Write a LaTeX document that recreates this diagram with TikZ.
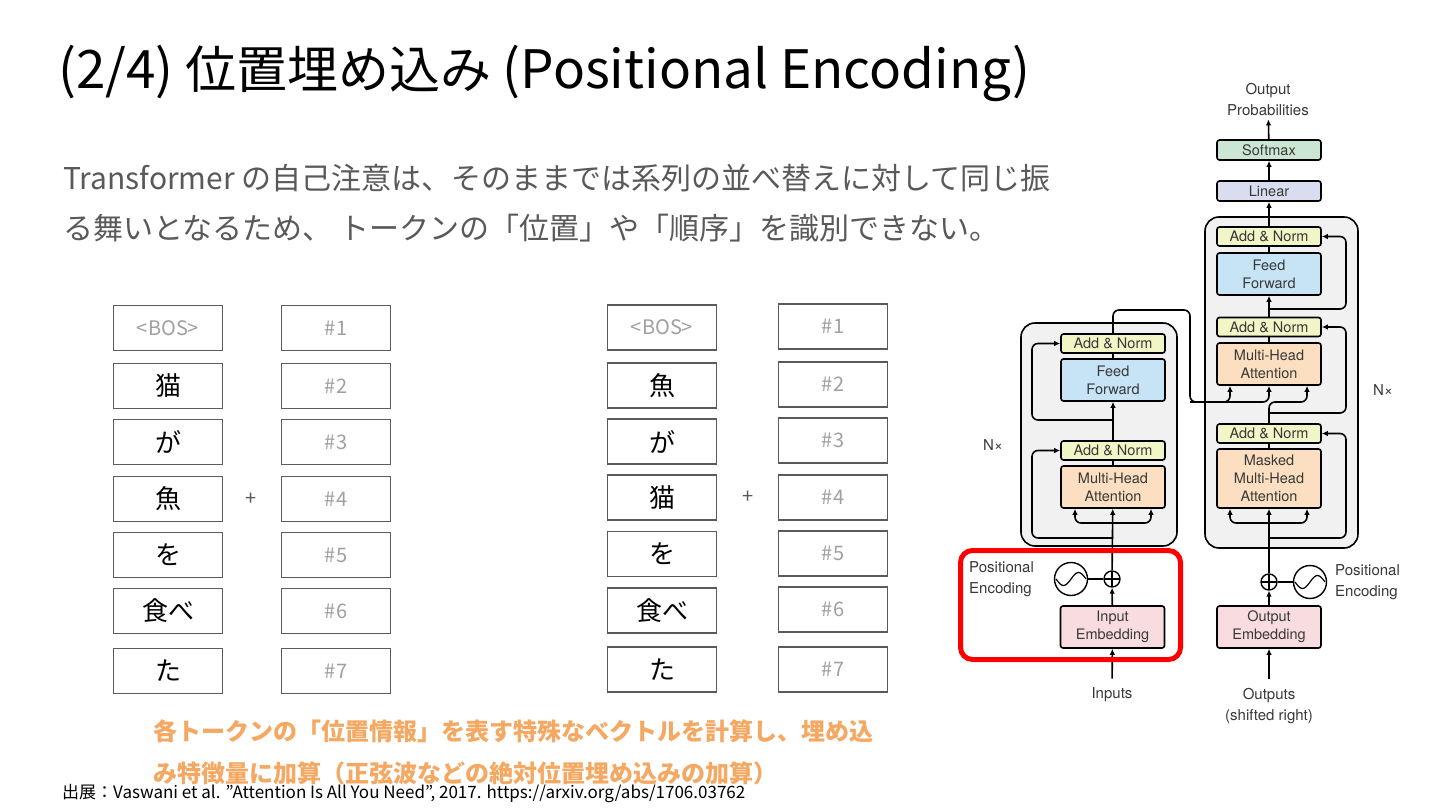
\documentclass[tikz,border=0pt]{standalone}
\usepackage{fontspec}
\setmainfont{Noto Sans CJK JP}
\newfontfamily\figfont{TeX Gyre Heros}
\usetikzlibrary{positioning, arrows.meta, calc}
\definecolor{textgray}{HTML}{595959}
\definecolor{idgray}{HTML}{A0A0A0}
\definecolor{boxgray}{HTML}{5A5A5A}
\definecolor{notegold}{HTML}{F5A862}
\definecolor{normyellow}{HTML}{F2F5C6}
\definecolor{ffblue}{HTML}{C6E4F5}
\definecolor{attnorange}{HTML}{FCDFC0}
\definecolor{embpink}{HTML}{F8DCE0}
\definecolor{softgreen}{HTML}{CBE7D3}
\definecolor{linlilac}{HTML}{DADCEF}
\definecolor{stackgray}{HTML}{F1F1F1}
\definecolor{figtext}{HTML}{383838}

\newcommand\titlelatin[1]{{\fontsize{53}{53}\selectfont #1}}

\tikzset{
  token/.style={draw=boxgray, line width=1.4pt, minimum width=109pt, minimum height=45pt,
                inner sep=0pt, font=\fontsize{26}{26}\selectfont},
  posid/.style={token, text=idgray, font=\fontsize{20}{20}\selectfont},
  layer/.style={draw=black, line width=1.6pt, rounded corners=2.5pt, minimum width=104pt,
                inner sep=0pt, align=center, text=figtext, font=\figfont\fontsize{14.5}{18}\selectfont},
  addnorm/.style={layer, fill=normyellow, minimum height=19pt},
  ffwd/.style={layer, fill=ffblue, minimum height=42pt},
  attn/.style={layer, fill=attnorange, minimum height=42pt},
  embed/.style={layer, fill=embpink, minimum height=42pt},
  stack/.style={draw=black, line width=1.6pt, rounded corners=14pt, fill=stackgray, inner sep=0pt},
  adder/.style={circle, draw, line width=1.4pt, fill=white, minimum size=16pt, inner sep=0pt,
                path picture={\draw[line width=1.2pt] (path picture bounding box.north) -- (path picture bounding box.south)
                  (path picture bounding box.west) -- (path picture bounding box.east);}},
  wave/.style={circle, draw, line width=1.4pt, minimum size=33pt, inner sep=0pt},
  figlabel/.style={inner sep=1pt, align=center, text=figtext, font=\figfont\fontsize{15}{21}\selectfont},
  flow/.style={line width=1.6pt, -{Latex[length=6pt,width=5.5pt]}},
  link/.style={line width=1.6pt},
}

\begin{document}
\begin{tikzpicture}[x=1pt, y=-1pt]
  \fill[white] (0,0) rectangle (1440,810);
  \useasboundingbox (0,0) rectangle (1440,810);

  % title and lead text
  \node[anchor=base west, inner sep=0pt, font=\fontsize{51}{51}\selectfont] (title) at (58,89)
    {\titlelatin{(2/4) }位置埋め込み \titlelatin{(Positional Encoding)}};
  \node[anchor=base west, inner sep=0pt, text=textgray, font=\fontsize{30}{30}\selectfont] (lead1) at (63,190)
    {Transformer の自己注意は、そのままでは系列の並べ替えに対して同じ振};
  \node[anchor=base west, inner sep=0pt, text=textgray, font=\fontsize{30}{30}\selectfont] (lead2) at (63,240)
    {る舞いとなるため、 トークンの「位置」や「順序」を識別できない。};

  % token tables
  \node[token, text=idgray, font=\fontsize{20}{20}\selectfont] (ltok1) at (168,328) {<BOS>};
  \node[token, text=idgray, font=\fontsize{20}{20}\selectfont] (rtok1) at (662,327.5) {<BOS>};
  \foreach \tok/\y [count=\i from 2] in {猫/386, が/442, 魚/499, を/555, 食べ/611, た/671}
    \node[token] (ltok\i) at (168,\y) {\tok};
  \foreach \tok/\y [count=\i from 2] in {魚/385.5, が/441.5, 猫/497.5, を/554, 食べ/610.5, た/669.5}
    \node[token] (rtok\i) at (662,\y) {\tok};
  \foreach \y [count=\i] in {328, 386, 442, 499, 555, 611, 671} {
    \node[posid] (lpos\i) at (336,\y) {\#\i};
    \node[posid] (rpos\i) at (833,\y-1.5) {\#\i};
  }
  \node[text=textgray, font=\fontsize{20}{20}\selectfont] (lplus) at (251,499) {+};
  \node[text=textgray, font=\fontsize{20}{20}\selectfont] (rplus) at (748,497) {+};

  % transformer: stacks
  \node[stack, minimum width=156pt, minimum height=223pt] (encstack) at (1099,434.5) {};
  \node[stack, minimum width=153pt, minimum height=331pt] (decstack) at (1281.5,382.5) {};

  % encoder side
  \node[embed] (inemb) at (1112.5,627) {Input\\Embedding};
  \node[attn] (encmha) at (1113,487) {Multi-Head\\Attention};
  \node[addnorm] (encan1) at (1113,450.5) {Add \& Norm};
  \node[ffwd] (encff) at (1113,380) {Feed\\Forward};
  \node[addnorm] (encan2) at (1113,343.5) {Add \& Norm};
  \node[adder] (encplus) at (1112,579) {};
  \node[wave] (encwave) at (1071,579) {};
  \node[figlabel] (inputs) at (1112,695) {Inputs};
  \node[figlabel, align=left, anchor=west] (encpe) at (968,579) {Positional\\Encoding};
  \node[figlabel] (encnx) at (993,445) {N×};

  % decoder side
  \node[embed, minimum width=104pt] (outemb) at (1269,627) {Output\\Embedding};
  \node[attn, minimum height=59pt] (decmha1) at (1269,478.5) {Masked\\Multi-Head\\Attention};
  \node[addnorm] (decan1) at (1269,433.5) {Add \& Norm};
  \node[attn] (decmha2) at (1269,364) {Multi-Head\\Attention};
  \node[addnorm] (decan2) at (1269,327) {Add \& Norm};
  \node[ffwd] (decff) at (1269,274) {Feed\\Forward};
  \node[addnorm] (decan3) at (1269,236.5) {Add \& Norm};
  \node[layer, fill=linlilac, minimum height=20pt] (linear) at (1269,191) {Linear};
  \node[layer, fill=softgreen, minimum height=20pt] (softmax) at (1269,150) {Softmax};
  \node[figlabel] (probs) at (1268,100) {Output\\Probabilities};
  \node[adder] (decplus) at (1269,582) {};
  \node[wave] (decwave) at (1310,582) {};
  \node[figlabel] (outputs) at (1269,706) {Outputs\\(shifted right)};
  \node[figlabel, align=left, anchor=west] (decpe) at (1334,582) {Positional\\Encoding};
  \node[figlabel] (decnx) at (1383,390) {N×};

  \foreach \w in {encwave, decwave}
    \draw[line width=1.2pt, shift={(\w.center)}] plot[smooth, domain=-1:1, samples=21] ({\x*15}, {-6.5*sin(180*\x)});

  % rails and branch points
  \coordinate (encrail) at (1032,0);
  \coordinate (decrail) at (1346,0);
  \coordinate (encfork) at (1113,523);
  \coordinate (encres1) at (1113,538);
  \coordinate (encres2) at (1113,420);
  \coordinate (memtop) at (1190,310);
  \coordinate (memrun) at (1190,402);
  \coordinate (decfork) at (1269,523);
  \coordinate (decres1) at (1269,538);
  \coordinate (decres2) at (1269,413);
  \coordinate (decres3) at (1269,309);

  % encoder connectors
  \draw[flow, shorten <=8pt] (inputs) -- (inemb);
  \draw[flow] (inemb) -- (encplus);
  \draw[link] (encwave) -- (encplus);
  \draw[flow] (encplus) -- (encmha);
  \draw[flow, rounded corners=6pt] (encfork) -| ([xshift=-38pt]encmha.south);
  \draw[flow, rounded corners=6pt] (encfork) -| ([xshift=38pt]encmha.south);
  \draw[flow, rounded corners=6pt] (encres1) -| (encrail |- encan1) -- (encan1.west);
  \draw[link] (encmha) -- (encan1);
  \draw[flow] (encan1) -- (encff);
  \draw[flow, rounded corners=6pt] (encres2) -| (encrail |- encan2) -- (encan2.west);
  \draw[link] (encff) -- (encan2);
  \draw[flow, rounded corners=6pt] (encan2.north) |- (memtop) -- (memrun) -| ([xshift=-39pt]decmha2.south);
  \draw[flow, rounded corners=6pt] (memrun) -| (decmha2.south);

  % decoder connectors
  \draw[flow, shorten <=8pt] (outputs) -- (outemb);
  \draw[flow] (outemb) -- (decplus);
  \draw[link] (decplus) -- (decwave);
  \draw[flow] (decplus) -- (decmha1);
  \draw[flow, rounded corners=6pt] (decfork) -| ([xshift=-39pt]decmha1.south);
  \draw[flow, rounded corners=6pt] (decfork) -| ([xshift=38pt]decmha1.south);
  \draw[flow, rounded corners=6pt] (decres1) -| (decrail |- decan1) -- (decan1.east);
  \draw[link] (decmha1) -- (decan1);
  \draw[flow, rounded corners=6pt] (decan1.north) -- (decan1.north |- memrun) -| ([xshift=38pt]decmha2.south);
  \draw[flow, rounded corners=6pt] (decres2) -| (decrail |- decan2) -- (decan2.east);
  \draw[link] (decmha2) -- (decan2);
  \draw[flow] (decan2) -- (decff);
  \draw[flow, rounded corners=6pt] (decres3) -| (decrail |- decan3) -- (decan3.east);
  \draw[link] (decff) -- (decan3);
  \draw[flow] (decan3) -- (linear);
  \draw[flow] (linear) -- (softmax);
  \draw[flow, shorten >=2pt] (softmax) -- (probs);

  % highlight of the positional encoding
  \draw[red, line width=5pt, rounded corners=12pt] (960.5,550.5) rectangle (1180.5,659.5);

  % note and source
  \node[anchor=base west, inner sep=0pt, text=notegold, font=\bfseries\fontsize{24}{24}\selectfont] (note1) at (153,740)
    {各トークンの「位置情報」を表す特殊なベクトルを計算し、埋め込};
  \node[anchor=base west, inner sep=0pt, text=notegold, font=\bfseries\fontsize{24}{24}\selectfont] (note2) at (153,782)
    {み特徴量に加算（正弦波などの絶対位置埋め込みの加算）};
  \node[anchor=base west, inner sep=0pt, font=\fontsize{17}{17}\selectfont] (source) at (62,798)
    {出展：Vaswani et al. "Attention Is All You Need", 2017. https://arxiv.org/abs/1706.03762};
\end{tikzpicture}
\end{document}
